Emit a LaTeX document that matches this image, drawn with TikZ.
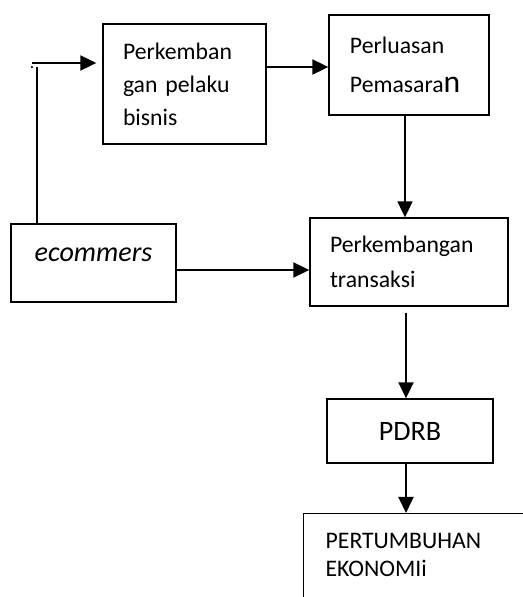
\documentclass[tikz,border=0pt]{standalone}
\usepackage{fontspec}
\setmainfont{Carlito}
\usetikzlibrary{arrows.meta}

\tikzset{
  kotak/.style={draw, line width=0.75pt, inner xsep=0.4cm, inner ysep=0pt, align=left,
    font=\fontsize{13.5}{18.8}\selectfont},
  panah/.style={-{Triangle[length=0.32cm,width=0.3cm]}, line width=1.1pt},
}

\begin{document}
\begin{tikzpicture}
\useasboundingbox (0,0) rectangle (10.46,11.94);
\clip (0,0) rectangle (10.46,11.94);
% Boxes
\node[kotak, text width=2.46cm, minimum height=2.4cm] (pelaku) at (3.69,10.26) {Perkemban\\gan pelaku\\bisnis};
\node[kotak, text width=2.36cm, inner xsep=0.42cm, minimum height=2cm,
  font=\fontsize{13.5}{22}\selectfont] (pasar) at (8.18,10.64) {Perluasan\\Pemasara{\fontsize{18}{22}\selectfont n}};
\node[kotak, text width=3.16cm, minimum height=1.76cm,
  font=\fontsize{13.5}{19.9}\selectfont] (transaksi) at (8.18,6.7) {Perkembangan\\transaksi};
\node[kotak, align=center, inner xsep=0pt, minimum width=3.3cm, minimum height=1.56cm, text depth=0.32cm,
  font=\fontsize{16}{19}\selectfont\itshape] (ecom) at (1.87,6.68) {ecommers};
\node[kotak, align=center, inner xsep=0pt, minimum width=3.32cm, minimum height=1.28cm,
  font=\fontsize{16}{19}\selectfont] (pdrb) at (8.2,3.32) {PDRB};
\node[kotak, anchor=north west, text width=4.4cm, inner xsep=0.44cm, inner ysep=0.4cm,
  text height=0.3cm, text depth=2cm,
  font=\fontsize{13.5}{16}\selectfont] (tumbuh) at (6.06,1.68) {PERTUMBUHAN\\EKONOMIi};
% Line from ecommers up to the first box
\coordinate (pojok) at (0.74,10.68);
\draw[line width=1.1pt] (ecom.north -| pojok) -- ([yshift=-0.08cm]pojok);
\draw[panah, shorten >=0.12cm] ([xshift=-0.1cm]pojok) -- (pelaku.west |- pojok);
\node[font=\fontsize{10}{12}\selectfont, anchor=base] (titik) at (0.64,10.56) {.};
% Arrows between boxes
\draw[panah] ([yshift=0.34cm]pelaku.east) -- ([yshift=0.34cm]pelaku.east -| pasar.west);
\draw[panah] ([xshift=-0.08cm]pasar.south) -- ([xshift=-0.08cm]transaksi.north);
\draw[panah] ([yshift=-0.14cm]ecom.east) -- ([yshift=-0.14cm]ecom.east -| transaksi.west);
\draw[panah] ([xshift=-0.06cm,yshift=-0.12cm]transaksi.south) -- ([xshift=-0.06cm]transaksi.south |- pdrb.north);
\draw[panah] ([xshift=-0.08cm]pdrb.south) -- ([xshift=-0.08cm]pdrb.south |- tumbuh.north);
\end{tikzpicture}
\end{document}
